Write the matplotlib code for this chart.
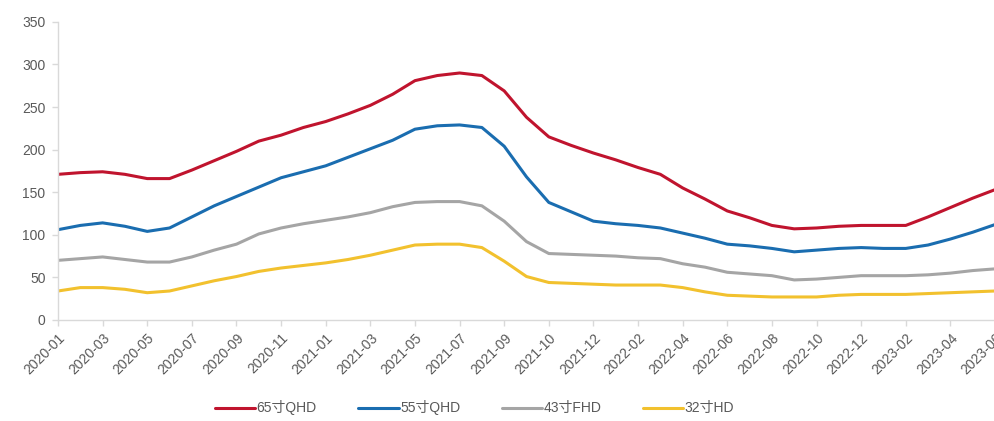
import matplotlib
matplotlib.use("Agg")
import matplotlib.pyplot as plt
import numpy as np

plt.rcParams['font.family'] = ['Liberation Sans', 'Noto Sans CJK SC', 'DejaVu Sans']

tick_labels = ["2020-01", "2020-03", "2020-05", "2020-07", "2020-09", "2020-11",
               "2021-01", "2021-03", "2021-05", "2021-07", "2021-09", "2021-10",
               "2021-12", "2022-02", "2022-04", "2022-06", "2022-08", "2022-10",
               "2022-12", "2023-02", "2023-04", "2023-06"]

s65 = [171, 173, 174, 171, 166, 166, 176, 187, 198, 210, 217, 226, 233, 242, 252,
       265, 281, 287, 290, 287, 269, 238, 215, 205, 196, 188, 179, 171, 155, 142,
       128, 120, 111, 107, 108, 110, 111, 111, 111, 121, 132, 143, 153]
s55 = [106, 111, 114, 110, 104, 108, 121, 134, 145, 156, 167, 174, 181, 191, 201,
       211, 224, 228, 229, 226, 204, 168, 138, 127, 116, 113, 111, 108, 102, 96,
       89, 87, 84, 80, 82, 84, 85, 84, 84, 88, 95, 103, 112]
s43 = [70, 72, 74, 71, 68, 68, 74, 82, 89, 101, 108, 113, 117, 121, 126,
       133, 138, 139, 139, 134, 116, 92, 78, 77, 76, 75, 73, 72, 66, 62,
       56, 54, 52, 47, 48, 50, 52, 52, 52, 53, 55, 58, 60]
s32 = [34, 38, 38, 36, 32, 34, 40, 46, 51, 57, 61, 64, 67, 71, 76,
       82, 88, 89, 89, 85, 69, 51, 44, 43, 42, 41, 41, 41, 38, 33,
       29, 28, 27, 27, 27, 29, 30, 30, 30, 31, 32, 33, 34]

series = [("65寸QHD", s65, "#C0142E"),
          ("55寸QHD", s55, "#1A6DB0"),
          ("43寸FHD", s43, "#A5A5A5"),
          ("32寸HD", s32, "#F2C12E")]

fig = plt.figure(figsize=(9.95, 4.21), dpi=100)
ax = fig.add_axes([0.0583, 0.240, 0.9417, 0.708])

x = np.arange(len(s65))
for name, vals, col in series:
    ax.plot(x, vals, color=col, lw=2.2, label=name, solid_capstyle='round')

ax.set_xlim(0, len(s65) - 1)
ax.set_ylim(0, 350)
ax.set_yticks(np.arange(0, 351, 50))
ax.set_xticks(np.arange(0, len(s65), 2))
ax.set_xticklabels(tick_labels, rotation=45, ha='right', rotation_mode='anchor')

for sp in ['top', 'right']:
    ax.spines[sp].set_visible(False)
for sp in ['left', 'bottom']:
    ax.spines[sp].set_color('#D9D9D9')
    ax.spines[sp].set_linewidth(1.0)

ax.tick_params(axis='both', colors='#D9D9D9', labelcolor='#595959', labelsize=10,
               length=4, width=1)
ax.tick_params(axis='x', pad=4)
ax.tick_params(axis='y', pad=5)

fig.legend(loc='center', bbox_to_anchor=(0.477, 0.031), ncol=4, frameon=False,
           fontsize=10, handlelength=2.9, columnspacing=3.0, handletextpad=0.1,
           labelcolor='#595959')

fig.savefig("out.png", dpi=100)
